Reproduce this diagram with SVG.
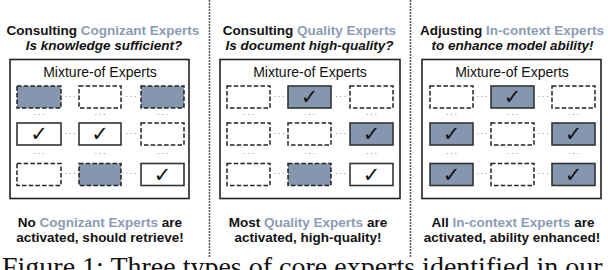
<svg xmlns="http://www.w3.org/2000/svg" width="608" height="270" viewBox="0 0 608 270">
<style>
.bg{fill:#ffffff}
.frame{fill:#ffffff;stroke:#222;stroke-width:1.6}
.de{fill:#ffffff;stroke:#222;stroke-width:1.5;stroke-dasharray:4.5 2.2}
.df{fill:#8597ae;stroke:#222;stroke-width:1.5;stroke-dasharray:4.5 2.2}
.sw{fill:#ffffff;stroke:#333;stroke-width:1.6}
.sf{fill:#8597ae;stroke:#333;stroke-width:1.6}
.div{stroke:#555;stroke-width:1.5;stroke-dasharray:2 1}
.t{font-family:"Liberation Sans",Arial,sans-serif;font-size:13.5px;font-weight:bold;fill:#111;text-anchor:middle}
.ti{font-style:italic}
.hl{fill:#8b9cb4}
.moe{font-family:"Liberation Sans",Arial,sans-serif;font-size:14px;fill:#111;text-anchor:middle}
.ck{font-family:"DejaVu Sans",sans-serif;font-size:21px;font-weight:bold;fill:#111;text-anchor:middle}
.dt{font-family:"Liberation Sans",Arial,sans-serif;font-size:8px;letter-spacing:1.6px;fill:#555;text-anchor:middle}
.cap{font-family:"Liberation Serif","Times New Roman",serif;font-size:28px;fill:#111}
</style>
<rect class="bg" x="0" y="0" width="608" height="270"/>
<g id="dividers">
<line class="div" x1="209.5" y1="0" x2="209.5" y2="258"/>
<line class="div" x1="410.5" y1="0" x2="410.5" y2="258"/>
</g>

<g id="panel1">
<text class="t" x="103" y="35">Consulting <tspan class="hl">Cognizant Experts</tspan></text>
<text class="t ti" x="104" y="50">Is knowledge sufficient?</text>
<rect class="frame" x="10" y="59.5" width="179" height="139"/>
<text class="moe" x="100" y="77">Mixture-of Experts</text>
<rect class="df" x="17" y="86" width="44" height="22"/>
<rect class="de" x="79" y="86" width="42" height="22"/>
<rect class="df" x="141" y="86" width="43" height="22"/>
<rect class="sw" x="17" y="123" width="44" height="22"/><text class="ck" x="39" y="141">✓</text>
<rect class="sw" x="79" y="123" width="42" height="22"/><text class="ck" x="100" y="141">✓</text>
<rect class="de" x="141" y="123" width="43" height="22"/>
<rect class="de" x="17" y="163.5" width="44" height="22"/>
<rect class="df" x="79" y="163.5" width="42" height="22"/>
<rect class="sw" x="141" y="163.5" width="43" height="22"/><text class="ck" x="162.5" y="181.5">✓</text>
<g class="dots">
<text class="dt" x="70.8" y="98.5">···</text><text class="dt" x="131.8" y="98.5">···</text>
<text class="dt" x="70.8" y="135.5">···</text><text class="dt" x="131.8" y="135.5">···</text>
<text class="dt" x="70.8" y="176">···</text><text class="dt" x="131.8" y="176">···</text>
<text class="dt" x="39.8" y="117">···</text><text class="dt" x="100.8" y="117">···</text><text class="dt" x="163.3" y="117">···</text>
<text class="dt" x="39.8" y="155.5">···</text><text class="dt" x="100.8" y="155.5">···</text><text class="dt" x="163.3" y="155.5">···</text>
</g>
<text class="t" x="100" y="227">No <tspan class="hl">Cognizant Experts</tspan> are</text>
<text class="t" x="100" y="242">activated, should retrieve!</text>
</g>

<g id="panel2">
<text class="t" x="309.5" y="35">Consulting <tspan class="hl">Quality Experts</tspan></text>
<text class="t ti" x="309.5" y="50">Is document high-quality?</text>
<rect class="frame" x="220" y="59.5" width="180" height="139"/>
<text class="moe" x="310" y="77">Mixture-of Experts</text>
<rect class="de" x="227" y="86" width="43" height="22"/>
<rect class="sf" x="288" y="86" width="43" height="22"/><text class="ck" x="309.5" y="104">✓</text>
<rect class="de" x="350" y="86" width="43" height="22"/>
<rect class="de" x="227" y="123" width="43" height="22"/>
<rect class="de" x="288" y="123" width="43" height="22"/>
<rect class="sf" x="350" y="123" width="43" height="22"/><text class="ck" x="371.5" y="141">✓</text>
<rect class="de" x="227" y="163.5" width="43" height="22"/>
<rect class="df" x="288" y="163.5" width="43" height="22"/>
<rect class="sw" x="350" y="163.5" width="43" height="22"/><text class="ck" x="371.5" y="181.5">✓</text>
<g class="dots">
<text class="dt" x="279.8" y="98.5">···</text><text class="dt" x="341.3" y="98.5">···</text>
<text class="dt" x="279.8" y="135.5">···</text><text class="dt" x="341.3" y="135.5">···</text>
<text class="dt" x="279.8" y="176">···</text><text class="dt" x="341.3" y="176">···</text>
<text class="dt" x="249.3" y="117">···</text><text class="dt" x="310.3" y="117">···</text><text class="dt" x="372.3" y="117">···</text>
<text class="dt" x="249.3" y="155.5">···</text><text class="dt" x="310.3" y="155.5">···</text><text class="dt" x="372.3" y="155.5">···</text>
</g>
<text class="t" x="308" y="227">Most <tspan class="hl">Quality Experts</tspan> are</text>
<text class="t" x="308" y="242">activated, high-quality!</text>
</g>

<g id="panel3">
<text class="t" x="512" y="35">Adjusting <tspan class="hl">In-context Experts</tspan></text>
<text class="t ti" x="512.5" y="50">to enhance model ability!</text>
<rect class="frame" x="422" y="59.5" width="179" height="139"/>
<text class="moe" x="512" y="77">Mixture-of Experts</text>
<rect class="de" x="430" y="86" width="43" height="22"/>
<rect class="sf" x="491" y="86" width="43" height="22"/><text class="ck" x="512.5" y="104">✓</text>
<rect class="de" x="552" y="86" width="43" height="22"/>
<rect class="sf" x="430" y="123" width="43" height="22"/><text class="ck" x="451.5" y="141">✓</text>
<rect class="de" x="491" y="123" width="43" height="22"/>
<rect class="sf" x="552" y="123" width="43" height="22"/><text class="ck" x="573.5" y="141">✓</text>
<rect class="sf" x="430" y="163.5" width="43" height="22"/><text class="ck" x="451.5" y="181.5">✓</text>
<rect class="de" x="491" y="163.5" width="43" height="22"/>
<rect class="sf" x="552" y="163.5" width="43" height="22"/><text class="ck" x="573.5" y="181.5">✓</text>
<g class="dots">
<text class="dt" x="482.8" y="98.5">···</text><text class="dt" x="543.8" y="98.5">···</text>
<text class="dt" x="482.8" y="135.5">···</text><text class="dt" x="543.8" y="135.5">···</text>
<text class="dt" x="482.8" y="176">···</text><text class="dt" x="543.8" y="176">···</text>
<text class="dt" x="452.3" y="117">···</text><text class="dt" x="513.3" y="117">···</text><text class="dt" x="574.3" y="117">···</text>
<text class="dt" x="452.3" y="155.5">···</text><text class="dt" x="513.3" y="155.5">···</text><text class="dt" x="574.3" y="155.5">···</text>
</g>
<text class="t" x="513" y="227">All <tspan class="hl">In-context Experts</tspan> are</text>
<text class="t" x="512" y="242">activated, ability enhanced!</text>
</g>

<text class="cap" x="2" y="276">Figure 1: Three types of core experts identified in our</text>
</svg>
